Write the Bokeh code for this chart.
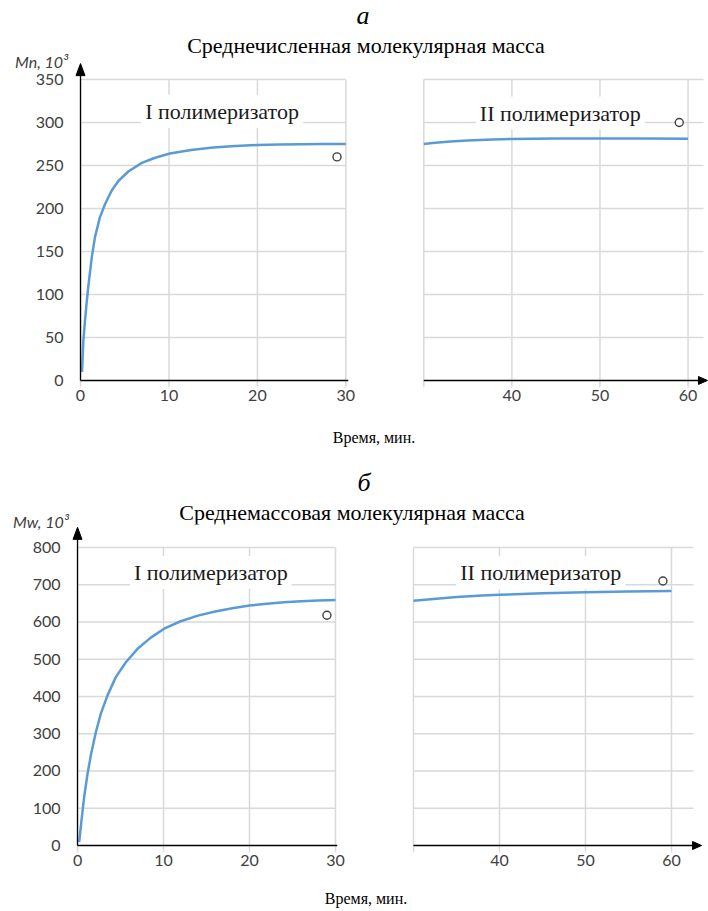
from bokeh.plotting import figure
from bokeh.models import Range1d, FixedTicker, Div, Label
from bokeh.layouts import column, row
from bokeh.embed import file_html
from bokeh.resources import INLINE

# ---------------- data ----------------
x_ticks_left = [0, 10, 20, 30]
x_ticks_right = [30, 40, 50, 60]
mn_ticks = [0, 50, 100, 150, 200, 250, 300, 350]
mw_ticks = [0, 100, 200, 300, 400, 500, 600, 700, 800]

# Mn, 10^3 (I polymerizer, II polymerizer)
t_mn_1 = [0.17, 0.32, 0.51, 0.70, 0.89, 1.27, 1.64, 2.2, 2.77, 3.53, 4.28, 5.41, 6.93, 8.44,
          10.1, 12.5, 15, 17.5, 20, 22.5, 25, 27.5, 30]
mn_1 = [10, 46, 70, 91, 110, 143, 167, 190, 205, 221, 232, 243, 253, 259,
        264, 268, 271, 272.8, 273.8, 274.4, 274.8, 275, 275]
t_mn_2 = [30, 31, 33, 35, 37, 40, 45, 50, 55, 60]
mn_2 = [275, 276.2, 278, 279.2, 280, 280.8, 281.3, 281.5, 281.5, 281.2]

# Mw, 10^3
t_mw_1 = [0.19, 0.46, 0.77, 1.16, 1.55, 2.13, 2.71, 3.49, 4.45, 5.62, 6.98, 8.52, 10.07,
          12, 14, 16, 18, 20, 22, 24, 26, 28, 30]
mw_1 = [9, 67, 130, 192, 242, 304, 354, 403, 452, 492, 528, 558, 582,
        602, 617, 628, 637, 644, 649, 653, 656, 658, 659]
t_mw_2 = [30, 32, 35, 38, 40, 45, 50, 55, 60]
mw_2 = [657, 661, 667, 671, 673, 677, 680, 682, 683]

# experimental points
t_exp = [29, 59]
mn_exp = [260, 300]
mw_exp = [618, 710]

title_mn = "Среднечисленная молекулярная масса"
title_mw = "Среднемассовая молекулярная масса"
label_1 = "I полимеризатор"
label_2 = "II полимеризатор"
x_title = "Время, мин."
y_title_mn = "Mn, 10³"
y_title_mw = "Mw, 10³"

# ---------------- styles ----------------
LINE = "#5b9bd5"
GRID = "#d9d9d9"
TXT = "#404040"
SERIF = "Liberation Serif"
SANS = "Lato"


def make_panel(width, height, borders, xr, yr, xticks, yticks, show_y, grid_x_extent, grid_y_top):
    left, right, top, bottom = borders
    p = figure(width=width, height=height, x_range=Range1d(*xr), y_range=Range1d(*yr),
               toolbar_location=None, output_backend="svg",
               y_axis_location="left" if show_y else None,
               min_border_left=left, min_border_right=right,
               min_border_top=top, min_border_bottom=bottom)
    p.border_fill_color = None
    p.background_fill_color = "white"
    p.outline_line_color = None
    p.grid.visible = False

    p.xaxis.ticker = FixedTicker(ticks=xticks)
    p.xaxis.axis_line_color = None
    p.xaxis.major_tick_in = 0
    p.xaxis.major_tick_out = 1
    p.xaxis.major_tick_line_color = GRID
    p.xaxis.major_tick_line_width = 1.5
    p.xaxis.minor_tick_line_color = None
    p.xaxis.major_label_standoff = 2
    p.xaxis.major_label_text_font = SANS
    p.xaxis.major_label_text_font_size = "16px"
    p.xaxis.major_label_text_color = TXT
    if not show_y:
        p.xaxis.major_label_overrides = {30: ""}

    if show_y:
        p.yaxis.ticker = FixedTicker(ticks=yticks)
        p.yaxis.axis_line_color = None
        p.yaxis.major_tick_in = 0
        p.yaxis.major_tick_out = 0
        p.yaxis.major_tick_line_color = None
        p.yaxis.minor_tick_line_color = None
        p.yaxis.major_label_standoff = 11
        p.yaxis.major_label_text_font = SANS
        p.yaxis.major_label_text_font_size = "16px"
        p.yaxis.major_label_text_color = TXT

    # grid lines (vertical stop at the top tick, horizontal limited to the panel)
    ybot = yr[0]
    p.segment(x0=xticks, y0=[ybot] * len(xticks), x1=xticks, y1=[grid_y_top] * len(xticks),
              line_color=GRID, line_width=1.5)
    hy = [y for y in yticks if y > 0]
    p.segment(x0=[grid_x_extent[0]] * len(hy), y0=hy, x1=[grid_x_extent[1]] * len(hy), y1=hy,
              line_color=GRID, line_width=1.5)
    return p


def x_axis_line(p, x0, x1, head=None):
    p.segment(x0=[x0], y0=[0], x1=[x1], y1=[0], line_color="black", line_width=1.5)
    if head is not None:
        base, tip, half = head
        p.patch([base, base, tip], [-half, half, 0], fill_color="black", line_color="black",
                line_width=1)


def y_axis_line(p, y1, head):
    base, tip, half = head
    p.segment(x0=[0], y0=[0], x1=[0], y1=[y1], line_color="black", line_width=1.3)
    p.patch([-half, half, 0], [base, base, tip], fill_color="black", line_color="black",
            line_width=1)


def add_box_label(p, x, y, text):
    p.add_layout(Label(x=x, y=y, text=text, text_align="center", text_baseline="middle",
                       text_font=SERIF, text_font_size="22px", text_color="#1a1a1a",
                       background_fill_color="white", padding=4))


def points(ts, vs, lo, hi):
    sel = [(t, v) for t, v in zip(ts, vs) if lo <= t <= hi]
    return [s[0] for s in sel], [s[1] for s in sel]


def draw(p, ts, vs, ets, evs, lo, hi):
    p.line(ts, vs, line_color=LINE, line_width=2.5, line_join="round")
    ex, ey = points(ets, evs, lo, hi)
    p.scatter(ex, ey, marker="circle", size=8, fill_color="white",
              line_color=TXT, line_width=1.4)


# ---------------- row 1 : Mn ----------------
fa = make_panel(380, 363, (74, 32, 8, 29), (-0.68, 30.3), (-7.0, 372.1),
                x_ticks_left, mn_ticks, True, (0, 30), 350)
fb = make_panel(328, 363, (41, 0, 8, 29), (29.74, 62.32), (-7.0, 372.1),
                x_ticks_right, mn_ticks, False, (30, 61.75), 350)
draw(fa, t_mn_1, mn_1, t_exp, mn_exp, 0, 30)
draw(fb, t_mn_2, mn_2, t_exp, mn_exp, 30, 62)
x_axis_line(fa, 0, 30.3)
y_axis_line(fa, 356, (354.5, 368.5, 0.51))
x_axis_line(fb, 30, 61.5, (61.18, 62.2, 4.6))
add_box_label(fa, 16.0, 313, label_1)
add_box_label(fb, 45.5, 311, label_2)

# ---------------- row 2 : Mw ----------------
fc = make_panel(370, 360, (71, 33, 9, 24), (-0.7, 30.23), (-16.1, 861.7),
                x_ticks_left, mw_ticks, True, (0, 30), 800)
fd = make_panel(338, 360, (41, 5, 9, 24), (29.77, 63.72), (-16.1, 861.7),
                x_ticks_right, mw_ticks, False, (30, 62.56), 800)
draw(fc, t_mw_1, mw_1, t_exp, mw_exp, 0, 30)
draw(fd, t_mw_2, mw_2, t_exp, mw_exp, 30, 63)
x_axis_line(fc, 0, 30.23)
y_axis_line(fc, 830, (821.8, 854, 0.52))
x_axis_line(fd, 30, 62.8, (62.45, 63.5, 10.7))
add_box_label(fc, 15.5, 733, label_1)
add_box_label(fd, 44.8, 732, label_2)


# ---------------- text blocks ----------------
def text_block(height, items):
    parts = ['<div style="position:relative;width:708px;height:%dpx;color:#000;">' % height]
    for it in items:
        if it["kind"] == "center":
            parts.append(
                '<div style="position:absolute;left:%dpx;top:%dpx;width:708px;text-align:center;'
                'white-space:nowrap;font-family:\'%s\';font-size:%dpx;line-height:%dpx;'
                'font-style:%s;">%s</div>'
                % (it["cx"] - 354, it["top"], SERIF, it["size"], it["lh"],
                   "italic" if it["italic"] else "normal", it["text"]))
        else:
            parts.append(
                '<div style="position:absolute;left:%dpx;top:%dpx;white-space:nowrap;'
                'font-family:\'%s\';font-size:16px;line-height:20px;font-style:italic;'
                'color:%s;">%s</div>'
                % (it["left"], it["top"], SANS, TXT, it["text"]))
    parts.append('</div>')
    return Div(text="".join(parts), width=708, height=height, margin=0,
               styles={"overflow": "visible"})


def ctext(top, size, lh, italic, cx, text):
    return dict(kind="center", top=top, size=size, lh=lh, italic=italic, cx=cx, text=text)


def ytext(left, top, text):
    return dict(kind="y", left=left, top=top, text=text)


d1 = text_block(52, [ctext(1, 26, 30, True, 363, "а"),
                     ctext(33, 22, 26, False, 366, title_mn),
                     ytext(15, 52, y_title_mn)])
d2 = text_block(100, [ctext(13, 16, 20, False, 374, x_title),
                      ctext(53, 26, 30, True, 364, "б"),
                      ctext(85, 22, 26, False, 352, title_mw),
                      ytext(13, 97, y_title_mw)])
d3 = text_block(36, [ctext(14, 16, 20, False, 366, x_title)])

layout = column(d1, row(fa, fb), d2, row(fc, fd), d3)

open("out.html", "w").write(file_html(layout, INLINE))
